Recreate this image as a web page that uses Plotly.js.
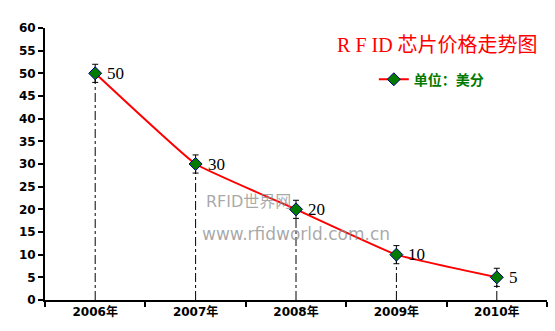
<!DOCTYPE html>
<html>
<head>
<meta charset="utf-8">
<script src="https://cdn.plot.ly/plotly-3.0.1.min.js"></script>
<style>html,body{margin:0;padding:0;background:#fff;}#chart{width:555px;height:331px;}</style>
</head>
<body>
<div id="chart"></div>
<script>
const years = ["2006年", "2007年", "2008年", "2009年", "2010年"];
const prices = [50, 30, 20, 10, 5];
const errors = [2, 2, 2, 2, 2];
const seriesName = "单位：美分";
const chartTitle = "R F ID 芯片价格走势图";

const traces = [];
// drop lines
years.forEach((y, i) => {
  traces.push({
    x: [y, y], y: [0, prices[i]], mode: "lines", showlegend: false, hoverinfo: "skip",
    line: {color: "#000", width: 1, dash: "dashdot"}
  });
});
traces.push({
  x: years, y: prices, name: seriesName, mode: "lines+markers",
  line: {color: "#ff0000", width: 2, shape: "spline", smoothing: 0.3},
  marker: {symbol: "diamond", size: 10, color: "#007a00", line: {color: "#000080", width: 1}},
  error_y: {type: "data", array: errors, visible: true, color: "#000", thickness: 1, width: 3}
});

const valueLabels = years.map((y, i) => ({
  x: y, y: prices[i], xref: "x", yref: "y", text: String(prices[i]), showarrow: false,
  xanchor: "left", yanchor: "middle", xshift: 10,
  font: {family: "Liberation Serif, serif", size: 17, color: "#000"}
}));

const layout = {
  width: 555, height: 331,
  margin: {l: 45, r: 8, t: 28, b: 31},
  paper_bgcolor: "#fff", plot_bgcolor: "#fff",
  font: {family: "DejaVu Sans, Noto Sans CJK SC", size: 12, color: "#000"},
  title: {text: chartTitle, x: 0.788, xanchor: "center", y: 0.865, yanchor: "middle",
    font: {family: "Liberation Serif, Noto Sans CJK SC", size: 20, color: "#ff0000"}},
  xaxis: {type: "category", range: [-0.5, 4.5], showline: true, linecolor: "#000", linewidth: 2,
    ticks: "outside", tickson: "boundaries", ticklen: 5, tickwidth: 2, tickcolor: "#000",
    showgrid: false, zeroline: false, fixedrange: true,
    tickfont: {family: "DejaVu Sans, Noto Sans CJK SC", size: 12, weight: "bold", color: "#000"}},
  yaxis: {range: [0, 60], dtick: 5, showline: true, linecolor: "#000", linewidth: 2,
    ticks: "outside", ticklen: 5, tickwidth: 2, tickcolor: "#000",
    showgrid: false, zeroline: false, fixedrange: true,
    tickfont: {family: "DejaVu Sans", size: 12, weight: "bold", color: "#000"}},
  showlegend: true,
  legend: {x: 0.655, y: 0.81, xanchor: "left", yanchor: "middle", bgcolor: "rgba(0,0,0,0)",
    itemwidth: 30,
    font: {family: "Noto Sans CJK SC", size: 14, weight: "bold", color: "#007a00"}},
  annotations: valueLabels.concat([
    {text: "RFID世界网", xref: "paper", yref: "paper", x: 0.405, y: 0.32, showarrow: false,
      font: {family: "DejaVu Sans, Noto Sans CJK SC", size: 16, color: "rgba(140,140,140,0.75)"}},
    {text: "www.rfidworld.com.cn", xref: "paper", yref: "paper", x: 0.5, y: 0.2, showarrow: false,
      font: {family: "DejaVu Sans", size: 17, color: "rgba(140,140,140,0.75)"}}
  ])
};
Plotly.newPlot("chart", traces, layout, {displayModeBar: false, staticPlot: true});
</script>
</body>
</html>
